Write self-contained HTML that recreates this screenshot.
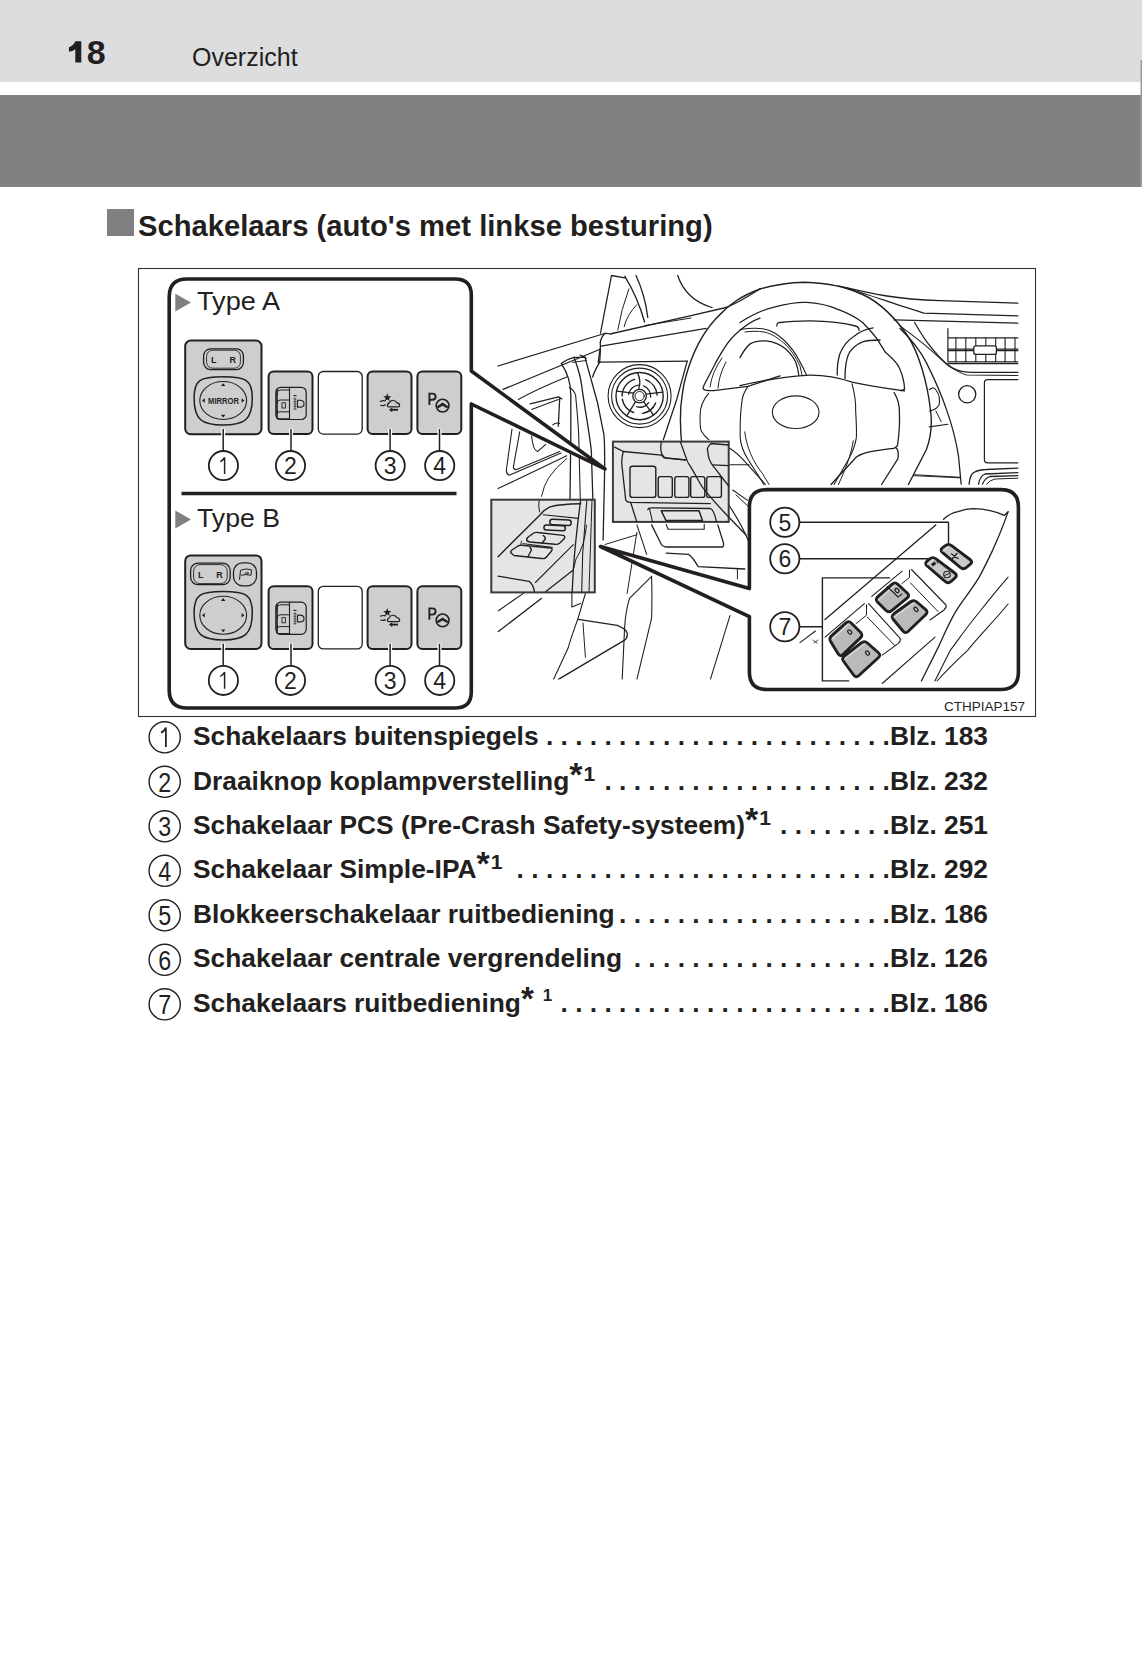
<!DOCTYPE html>
<html><head><meta charset="utf-8">
<style>
html,body{margin:0;padding:0;background:#fff;}
body{width:1142px;height:1654px;position:relative;overflow:hidden;font-family:"Liberation Sans",sans-serif;color:#231f20;}
.a{position:absolute;white-space:pre;line-height:1;}
#hb1{position:absolute;left:0;top:0;width:1142px;height:82px;background:#dcdddf;}
#hb2{position:absolute;left:0;top:95px;width:1142px;height:92px;background:#808183;}
#pn{left:86.7px;top:35px;font-size:34px;font-weight:bold;}
#ov{left:192px;top:45px;font-size:25px;}
#sq{position:absolute;left:107px;top:209px;width:27px;height:27px;background:#808083;}
#h2{left:138px;top:212px;font-size:29.2px;font-weight:bold;}
svg{position:absolute;left:0;top:0;}
</style></head><body>
<div id="hb1"></div><div id="hb2"></div>
<div class="a" id="pn">8</div>
<div class="a" id="ov">Overzicht</div>
<div id="sq"></div>
<div class="a" id="h2">Schakelaars (auto's met linkse besturing)</div>
<svg width="1142" height="1654" viewBox="0 0 1142 1654">
<path d="M75.3,41.2 H81.3 V62.6 H75.3 V49.2 Q72.5,51.2 68.9,51.8 V47.3 Q73.5,45.5 75.3,41.2 Z" fill="#231f20"/>

<clipPath id="dclip"><rect x="476" y="274.5" width="542.4" height="405"/></clipPath>
<g id="drawing" clip-path="url(#dclip)" fill="none" stroke="#231f20" stroke-linecap="round" stroke-linejoin="round">
<path d="M497.9,366 L604.6,333.5 Q607,333 610,334 L691,315.7 L724,308 C735,305 748,296 760,289" stroke-width="1.3"/>
<path d="M838,285.8 C865,292 890,299 940,300.6 L1018.4,303.2" stroke-width="1.3"/>
<path d="M845,287.5 C870,295 900,306 923.9,313.2 L1018.4,315.9" stroke-width="1.3"/>
<path d="M503,389.4 L599.5,349.5" stroke-width="1.3"/>
<path d="M604.6,333.5 Q599,340 600.5,346.5 L599.7,351.3 L598.2,362.5" stroke-width="1.3"/>
<path d="M601,346.2 L706.2,328.4" stroke-width="1.3"/>
<path d="M645,325.5 L691,318" stroke-width="1.0"/>
<path d="M894,319.9 L1018.4,323.2" stroke-width="1.3"/>
<path d="M600.5,333 L611.5,275.5 L624.9,277.9" stroke-width="1.3"/>
<path d="M624.9,276.3 Q638,298 644.6,322" stroke-width="1.3"/>
<path d="M636,275.5 Q645,295 647.8,317.3" stroke-width="1.3"/>
<path d="M628.9,288.9 Q621,310 617.8,329.9" stroke-width="1.0"/>
<path d="M636.7,304.7 Q627,315 624.1,326.7" stroke-width="1.0"/>
<path d="M677.7,275.5 Q686,300 712,307.5" stroke-width="1.3"/>
<path d="M561.4,363.6 Q566,359.5 574,357.3 L585,357.3" stroke-width="1.3"/>
<path d="M572.5,362.3 L586.5,360.5" stroke-width="1.0"/>
<path d="M561.4,363.6 C567,372 570.8,382 570.8,395 L570.8,434.6 L570,500" stroke-width="1.3"/>
<path d="M569.3,387.3 Q574,390 575.6,395.2 C577,410 578,420 578.7,434.6 L580.3,500" stroke-width="1.1"/>
<path d="M574,357.3 C578,368 581,378 581.9,387.3 C585,410 589,430 591.3,450.3 L592.9,500" stroke-width="1.3"/>
<path d="M585,357.3 C590,375 594,390 597.6,403 C600,415 602,425 603.9,434.6 Q605,445 604.5,478 L603.1,540" stroke-width="1.3"/>
<path d="M580,355.1 Q585,357 586.3,358.3" stroke-width="1.1"/>
<path d="M599.7,362.2 L600.5,348.8" stroke-width="1.3"/>
<path d="M599.7,362.2 L687.2,361.2" stroke-width="1.3"/>
<path d="M599.7,362.2 Q594,372 592.6,377.2" stroke-width="1.3"/>
<path d="M518.3,399.6 Q535,390 566.7,377" stroke-width="1.1"/>
<path d="M530.2,403.8 L558.3,396.8 L561.8,398.9" stroke-width="1.3"/>
<path d="M531.6,409.4 L558.3,399.6" stroke-width="1.1"/>
<path d="M559.7,398.2 L558.3,426.2" stroke-width="1.3"/>
<path d="M552.7,424.8 Q556,422 559.7,423.4" stroke-width="1.1"/>
<path d="M512,429 L506.4,469.7 Q506,474 509.2,475.3 L561.1,452.9" stroke-width="1.1"/>
<path d="M519.7,431.8 L513.4,466.9 Q513.5,469.5 516.2,469.7 L559.7,451.5" stroke-width="1.1"/>
<path d="M498,488.6 L566.7,455.7" stroke-width="1.1"/>
<path d="M531.6,436 Q533,450 537.3,451.5 Q541,449 545.7,444.4" stroke-width="1.1"/>
<path d="M541.5,496.3 Q544,485 548.5,478.1 Q555,468 566.7,458.5" stroke-width="1.0"/>
<circle cx="639.6" cy="396.1" r="31.5" stroke-width="1.1"/>
<circle cx="639.6" cy="396.1" r="28" stroke-width="1.1"/>
<circle cx="639.6" cy="396.1" r="23.6" stroke-width="1.4"/>
<path d="M622.1,396.1 A17.5,17.5 0 0 1 634.6,379.3 M645.6,379.6 A17.5,17.5 0 0 1 657.1,395.1 M655.6,403.1 A17.5,17.5 0 0 1 642.6,413.40000000000003 M633.6,412.5 A17.5,17.5 0 0 1 622.3000000000001,399.1" stroke-width="1.4"/>
<path d="M628.6,394.1 A11,11 0 0 1 638.6,385.1 M643.6,385.8 A11,11 0 0 1 650.6,397.1 M648.6,402.6 A11,11 0 0 1 636.6,406.70000000000005" stroke-width="1.3"/>
<circle cx="639.6" cy="396.1" r="6.8" stroke-width="1.3"/><circle cx="639.6" cy="396.1" r="4.6" stroke-width="1"/>
<path d="M633.6,393.1 L616.6,391.1 M638.6,389.3 Q641.6,381.1 637.6,373.1 M646.1,394.1 L662.6,392.1 M643.6,401.6 L653.6,415.1 M635.6,401.6 L626.6,416.1" stroke-width="1.3"/>
<path d="M712.3,500 C700,485 692,472 688.4,463 C683,450 680.8,440 680.8,432.5 C680,420 680.5,412 680.8,407.1 C682,395 683,386 685.8,376.7 C689,365 693,354 698.5,343.6 C704,333 710,325 716.3,318.2 C723,311 730,305 736.6,300.5 C745,295 752,292 760,289" stroke-width="1.4"/>
<path d="M760,289 C770,286 790,282.3 804.8,282.3 C830,283 845,287 862.6,294.5 C880,302 897,320 908.1,336.5 C918,352 927,380 930.5,410 C932.5,425 930,440 926.3,449.8 L908.4,484.5" stroke-width="1.4"/>
<path d="M760,318.2 C752,321 745,326 739.2,331 C733,336 728,342 724,348.7 C720,355 717,360 713.8,366.5 L705,383.3 Q702,389 703.7,389.4 Q706,391 713.6,390.6 L747.9,386.4 L780,375.9" stroke-width="1.3"/>
<path d="M740,322.5 C755,313 765,309 775,306.8 C790,303 800,302 806.5,302.4 C820,303 830,306 838,309.4 C850,314 857,318 862.6,322.5 C870,330 876,336 880,343.6 L885.4,352.3 C892,358 897,362 899.4,368 Q904,378 904.6,389.1 L901.1,390.8" stroke-width="1.3"/>
<path d="M722,358 Q712,372 710,387" stroke-width="1.0"/>
<path d="M726,362 Q719,375 718,388" stroke-width="1.0"/>
<path d="M740,329.5 C750,328 757,328 762.8,328.7 C772,330 778,335 783.8,340 C790,346 795,352 799.5,361.1 Q803,367 806.5,375" stroke-width="1.1"/>
<path d="M745,332 C752,331 758,331 764,332 C773,334 779,339 785,344 C791,350 796,357 800,366 L802,375" stroke-width="1.0"/>
<path d="M740,357.6 C744,350 747,346 750.5,343.6 C755,341 760,340.5 766.3,340.9 C775,342 781,345 785.5,348.8 C790,353 794,358 796,362.8 Q798,368 798.7,375" stroke-width="1.3"/>
<path d="M837.2,375 C837,365 838,360 839.8,354 C843,346 848,340 853.8,336.5 C860,331 866,329 873.1,327.8" stroke-width="1.3"/>
<path d="M845,378.6 C845,368 846,360 848.6,354 C852,348 857,344 862.6,341.8 C868,340 874,340 880.1,340" stroke-width="1.3"/>
<path d="M776.8,326 Q777,322 780.3,322.5 C790,321 800,320.8 810,320.8 C830,321 845,323 855.6,326 Q859,327 859.1,330.4" stroke-width="1.3"/>
<path d="M740,385.6 C760,381 790,376 810,375.1 C825,375 840,378 852.1,382.1 C870,386 890,389 904.6,390.8" stroke-width="1.3"/>
<path d="M852.1,383.8 C855,395 856,402 855.6,410.1 C856.5,425 856.8,433 856.3,437.9 C855,447 852,453 848.9,458.7 L834,484.5" stroke-width="1.1"/>
<path d="M853.3,440.8 C851,455 846,468 838.4,484.5" stroke-width="1.0"/>
<path d="M894.1,392.6 Q900,402 899.4,413.6 C900,425 899,435 897.6,445.1 Q896,449 890.6,448.6 C880,450 870,451 862.6,453.9 Q857,456 854.8,458.7 L831,484.5" stroke-width="1.3"/>
<path d="M896.5,448.3 Q899,451 898,458.7 L881.6,484.5" stroke-width="1.3"/>
<path d="M747.9,386.4 Q742,395 741.8,402.9 C740,415 740,425 740.2,437.9 C741,447 744,453 747.6,458.7 L764,484.5" stroke-width="1.1"/>
<path d="M744.7,431.9 C747,448 753,462 762.5,473.6 L769,484.5" stroke-width="1.0"/>
<path d="M708.7,393.1 C703,400 700,408 700.1,415.2 C700,422 700,428 701.3,431.1 Q704,436 708.7,439.7" stroke-width="1.1"/>
<ellipse cx="795.7" cy="412.2" rx="23.3" ry="16.3" stroke-width="1.1"/>
<path d="M729.8,448.3 C737,453 742,458 747.6,464.7 L765.5,484.5" stroke-width="1.1"/>
<path d="M729.8,464.7 L749.1,464.7" stroke-width="1.1"/>
<path d="M732.7,490 L747.6,500.4" stroke-width="1.1"/>
<path d="M687.2,361.2 L676.8,399.2 L663.3,439.7" stroke-width="1.3"/>
<path d="M914.6,322.5 C920,332 926,342 933.2,349.8 C940,358 947,365 953.2,368.4 C960,372 966,372.4 973.1,372.4 L1018.4,372.4" stroke-width="1.3"/>
<path d="M900,325.9 C915,337 925,345 930.6,349.8 C940,358 945,364 950.5,367.1 C957,371 962,374 966.5,375 L1018.4,375.5" stroke-width="1.1"/>
<path d="M900,328.5 C912,340 920,350 926.6,363.1 C935,380 942,396 946.5,409.6 C952,425 956,440 958.5,456.2 L961.2,484.1" stroke-width="1.3"/>
<path d="M929.3,389.7 Q934,386 936,390 Q941,397 939,405 Q936,410 929.3,411" stroke-width="1.1"/>
<path d="M935.9,411 L941.2,421.6" stroke-width="1.0"/>
<path d="M929.3,426.9 L947.9,424.3" stroke-width="1.1"/>
<path d="M914.6,474.8 L959.8,477.4" stroke-width="1.1"/>
<path d="M913.4,475.7 L960,477.8" stroke-width="0.9"/>
<path d="M947.9,337.8 H1018.4 M947.9,361.8 H1018.4 M947.9,363.6 H1018.4 M947.9,349.2 H1018.4 M947.9,350.6 H1018.4 M947.9,328.5 V361.8" stroke-width="1.2"/>
<path d="M955.9,337.8 V361.8" stroke-width="1.1"/>
<path d="M965.8,337.8 V361.8" stroke-width="1.1"/>
<path d="M975.8,337.8 V361.8" stroke-width="1.1"/>
<path d="M985.8,337.8 V361.8" stroke-width="1.1"/>
<path d="M995.7,337.8 V361.8" stroke-width="1.1"/>
<path d="M1005.1,337.8 V361.8" stroke-width="1.1"/>
<path d="M1015,337.8 V361.8" stroke-width="1.1"/>
<rect x="973.8" y="345.8" width="22.6" height="8.6" rx="2" fill="#fff" stroke-width="1.3"/>
<circle cx="967.2" cy="394.3" r="8.6" stroke-width="1.3"/>
<path d="M1018.4,379.7 H987.5 Q984.4,379.7 984.4,383 V459.5 Q984.4,462.8 987.5,462.8 H1018.4" stroke-width="1.2"/>
<path d="M969.1,484.1 Q970,474 974.5,472.1 Q979,469.5 986.4,469.5 L1018.4,468.1" stroke-width="1.3"/>
<path d="M978.5,484.1 Q980,476 985,474 L1018.4,472.6" stroke-width="1.3"/>
<path d="M982.5,484.1 Q985,478 990,476.5 L1018.4,475.6" stroke-width="1.3"/>
<path d="M986.5,484.1 Q990,480 995,479 L1018.4,478.2" stroke-width="1.0"/>
<path d="M498.4,610.7 L526.6,591.1" stroke-width="1.1"/>
<path d="M498.4,631.5 L541.3,598.4" stroke-width="1.3"/>
<path d="M571.9,591.1 L571.9,607 L580.5,603.4" stroke-width="1.1"/>
<path d="M585.4,593.5 L578.1,618.1 C574,630 570,640 568.3,647.5 L553.5,679.4" stroke-width="1.1"/>
<path d="M578.1,619.3 L617.3,625.4 Q626,629 627.1,632.8 Q628,638 624.6,640.1 L558.4,679.4" stroke-width="1.3"/>
<path d="M583,623 L585.4,657.3" stroke-width="1.0"/>
<path d="M651.6,576.4 L629.5,598.4 C626,610 625,620 624.6,627.9 L622.2,679.4" stroke-width="1.1"/>
<path d="M651.6,576.4 C652,590 652,605 651.6,618.1 L636.9,679.4" stroke-width="1.1"/>
<path d="M636.9,532.3 L627.1,593.5" stroke-width="1.0"/>
<path d="M605,544.5 L636.9,534.7" stroke-width="1.0"/>
<path d="M730,615.6 L710.4,679.4" stroke-width="1.1"/>
<path d="M636.9,524.9 L646.7,554.3" stroke-width="1.1"/>
<path d="M651.6,524.9 L661.4,544.5 Q663,547 667,547 L722.7,547 Q724,546 723.5,543 L717.8,524.9" stroke-width="1.3"/>
<path d="M666.3,553.1 L688.4,554.3 Q692,556 698.2,566.6 L744.8,569" stroke-width="1.3"/>
<path d="M737.4,569 L737.4,578.8" stroke-width="1.0"/>
<path d="M666.2,524.4 L668,529.3 L704.2,529.3 L704.2,524.4" stroke-width="1.1"/>
<path d="M712.3,500 L727.5,515.8 L746,535" stroke-width="1.3"/>
<path d="M728.9,505 C735,515 742,525 748,540" stroke-width="1.1"/>
<path d="M736,495 L749,507" stroke-width="1.0"/>
</g>
<rect x="612.9" y="441.6" width="115.8" height="80.3" fill="#e4e5e7" stroke="#3a3a3a" stroke-width="2"/>
<g fill="none" stroke="#231f20" stroke-linecap="round" stroke-linejoin="round"><path d="M614.7,447.2 L623.3,451.5 L661.3,455.1 Q663,456 663.7,457.6 L685.8,460" stroke-width="1.3"/>
<path d="M661.3,441.6 Q660,450 662,454.4 Q664,458 665.7,458.1 L685.4,459.9" stroke-width="1.3"/>
<path d="M623.3,451.5 Q621,460 622.1,466.8 L625.7,499.9 Q626.5,502 630.6,502.3 L710.3,503.6" stroke-width="1.3"/>
<rect x="630" y="466.2" width="25.8" height="31.2" rx="2.5" stroke-width="1.4"/>
<rect x="658.2" y="476.6" width="14.1" height="20.8" rx="2.2" stroke-width="1.4"/>
<rect x="674.8" y="476.6" width="14.1" height="20.8" rx="2.2" stroke-width="1.4"/>
<rect x="690.7" y="476.6" width="14.1" height="20.8" rx="2.2" stroke-width="1.4"/>
<rect x="706.7" y="476.6" width="14.7" height="20.8" rx="2.2" stroke-width="1.4"/>
<path d="M680.3,441.6 C684,452 688,464 689,464.2 C694,472 698,480 701.8,486.4 C710,497 720,508 728.7,517" stroke-width="1.3"/>
<path d="M728.7,445 L711,443.5 Q706,448 707.9,452.1 C708,458 710,462 712.8,465.6 C718,472 723,479 728.7,486" stroke-width="1.3"/>
<path d="M712.8,464.9 L728.7,465.6" stroke-width="1.1"/>
<path d="M630.6,502.3 L636.8,521.9" stroke-width="1.3"/>
<path d="M647.8,509.7 Q648,507.8 652,507.8 L710.3,508.5 Q714,510 716.5,521.9" stroke-width="1.3"/>
<path d="M649.5,508.5 L652.5,521.9" stroke-width="1.1"/>
<path d="M661.3,510.8 L699,510.8 L702.5,520.5 L666,520.5 Z" stroke-width="1.5"/></g>
<rect x="491.3" y="499.7" width="103.5" height="92.7" fill="#e4e5e7" stroke="#3a3a3a" stroke-width="2"/>
<g fill="none" stroke="#231f20" stroke-linecap="round" stroke-linejoin="round"><path d="M498.1,556.7 L540.7,514.2 Q545,509 550.1,506.8 Q560,504 580.6,503.7" stroke-width="1.4"/>
<path d="M543.3,514.7 L578.5,518.4" stroke-width="1.1"/>
<path d="M539.6,512 Q538,506 539.1,500.5" stroke-width="1.0"/>
<rect x="549.8" y="519.7" width="21.4" height="5.4" rx="2.7" transform="rotate(3 560.5 522.4)" stroke-width="1.5"/>
<rect x="543.9" y="525.4" width="21.5" height="5" rx="2.5" transform="rotate(3 554.6 527.9)" stroke-width="1.5"/>
<path d="M527,541 Q526,539 528,537.2 L533,533.5 Q535,532 538,532.5 L563,535.4 Q566,536 564,539 L559.5,543.2 Q558,544.5 555,544.3 L530,542 Z" stroke-width="1.4"/>
<path d="M543.2,535.5 Q546,537 545,539.5 L542,543" stroke-width="1.4"/>
<path d="M522.8,543.6 L552.2,547.3" stroke-width="1.0"/>
<path d="M511,553 Q510,551.5 512,550 L518,546 Q520,545 522,545.2 L551,548 Q553,548.5 551.5,551 L546.5,557 Q545,559 541.5,558.5 L514,555.5 Z" stroke-width="1.4"/>
<path d="M530,547.5 Q532,549 531,551 L528,556.5" stroke-width="1.4"/>
<path d="M520.5,545.5 L521.5,541" stroke-width="0.9"/>
<path d="M535.4,582.5 L573.3,544.6" stroke-width="1.1"/>
<path d="M545.9,591.4 L573.3,569.9" stroke-width="1.3"/>
<path d="M498.1,576.2 L529.1,581.4 Q533,584 534.4,591.4" stroke-width="1.3"/>
<path d="M580.6,500.5 C578,520 575,545 573.3,569.9 L572.2,592.4" stroke-width="1.3"/>
<path d="M586.9,500.5 C585,520 584,540 582.7,553 L581.7,592.4" stroke-width="1.1"/>
<path d="M592,500.5 C591,530 590,560 589,592" stroke-width="1.0"/>
<path d="M586.5,525 Q585,545 576,559 L573.3,569.9" stroke-width="1.0"/></g>
<g id="callL">
<path d="M187,279 L455,279 Q471.3,279 471.3,295 L471.3,371 L605,469 L471.3,404 L471.3,692 Q471.3,708 455,708 L187,708 Q169.2,708 169.2,690 L169.2,297 Q169.2,279 187,279 Z" fill="#fff" stroke="#231f20" stroke-width="3.6" stroke-linejoin="round"/>
<polygon points="175.3,293.7 191,302.6 175.3,311.5" fill="#808083"/>
<text x="197" y="310.3" font-family="Liberation Sans" font-size="25.8" fill="#231f20" textLength="83" lengthAdjust="spacingAndGlyphs">Type A</text>
<polygon points="175.3,510.6 191,519.5 175.3,528.4" fill="#808083"/>
<text x="197" y="527" font-family="Liberation Sans" font-size="25.8" fill="#231f20" textLength="83" lengthAdjust="spacingAndGlyphs">Type B</text>
<line x1="181.5" y1="493.5" x2="456.5" y2="493.5" stroke="#231f20" stroke-width="3.6"/>
</g>
<g id="callR">
<path d="M767,489.6 L1001,489.6 Q1018.4,489.6 1018.4,507 L1018.4,672 Q1018.4,689.5 1001,689.5 L767,689.5 Q749.4,689.5 749.4,672 L749.4,616.6 L600.5,546.5 L749.4,588.6 L749.4,507 Q749.4,489.6 767,489.6 Z" fill="#fff" stroke="#231f20" stroke-width="3.6" stroke-linejoin="round"/>
</g>

<g id="buttons">
<rect x="185.2" y="340.6" width="76.3" height="93.6" rx="5.5" fill="#cdced0" stroke="#231f20" stroke-width="2"/>
<rect x="268.6" y="371.5" width="43.9" height="62.6" rx="5" fill="#cdced0" stroke="#231f20" stroke-width="2"/>
<rect x="318.3" y="371.5" width="43.9" height="62.6" rx="5" fill="#fff" stroke="#231f20" stroke-width="1.3"/>
<rect x="367.6" y="371.5" width="43.9" height="62.6" rx="5" fill="#cdced0" stroke="#231f20" stroke-width="2"/>
<rect x="417.4" y="371.5" width="43.9" height="62.6" rx="5" fill="#cdced0" stroke="#231f20" stroke-width="2"/>
<path d="M223.2,376.7 C246,376.7 252.3,380.0 252.3,398.0 C252.3,420.0 244,425.1 223.2,425.1 C202,425.1 194.1,420.0 194.1,398.0 C194.1,380.0 200,376.7 223.2,376.7 Z" fill="none" stroke="#231f20" stroke-width="1.5"/>
<ellipse cx="223.2" cy="400.5" rx="23.4" ry="19" fill="none" stroke="#231f20" stroke-width="1.1"/>
<path d="M223.2,383.3 l-2.2,2.8 h4.4 Z M223.2,417.5 l-2.2,-2.8 h4.4 Z M202,400.5 l2.8,-2.2 v4.4 Z M244.4,400.5 l-2.8,-2.2 v4.4 Z" fill="#231f20"/>
<rect x="203.6" y="348.8" width="39.8" height="20.8" rx="7" fill="none" stroke="#231f20" stroke-width="1.3"/>
<rect x="206.6" y="350.2" width="33.8" height="18" rx="6" fill="none" stroke="#231f20" stroke-width="0.9"/>
<text x="213.8" y="363.4" font-family="Liberation Sans" font-weight="bold" font-size="9" text-anchor="middle" fill="#231f20">L</text>
<text x="232.8" y="363.4" font-family="Liberation Sans" font-weight="bold" font-size="9" text-anchor="middle" fill="#231f20">R</text>
<text x="223.6" y="403.7" font-family="Liberation Sans" font-weight="bold" font-size="8.6" text-anchor="middle" fill="#231f20" textLength="31" lengthAdjust="spacingAndGlyphs">MIRROR</text>
<rect x="275.8" y="387.3" width="30.4" height="32.2" rx="5" fill="none" stroke="#231f20" stroke-width="1.2"/>
<line x1="289.5" y1="387.3" x2="289.5" y2="419.5" stroke="#231f20" stroke-width="1.1"/>
<path d="M277.5,392.5 Q277.5,390.0 280,390.0 H289.5 M277.5,392.5 V395.0 M277.5,402.5 Q277.5,400.0 280,400.0 H289.5 M277.5,402.5 V404.0 M277.5,410.0 V413.5 Q277.5,411.8 280,411.8 H289.5" fill="none" stroke="#231f20" stroke-width="1"/>
<path d="M277,389.0 V418.0 Q277,419.0 279,419.0 H289.5" fill="none" stroke="#231f20" stroke-width="1.6"/>
<rect x="282" y="402.8" width="3.4" height="5.2" fill="none" stroke="#231f20" stroke-width="0.9"/>
<line x1="293.3" y1="395.6" x2="296.5" y2="395.6" stroke="#231f20" stroke-width="1.1"/>
<path d="M297.5,400.3 h2.5 q4,0 4,3.4 q0,3.4 -4,3.4 h-2.5 Z" fill="none" stroke="#231f20" stroke-width="1.1"/>
<path d="M293.5,399.0 h3 M293.5,401.5 h3 M293.5,404.0 h3 M293.5,406.5 h3 M293.5,409.0 h3 M295,397.5 v12" fill="none" stroke="#231f20" stroke-width="0.7"/>
<polygon points="387.30,393.30 388.36,396.14 391.39,396.27 389.01,398.16 389.83,401.08 387.30,399.40 384.77,401.08 385.59,398.16 383.21,396.27 386.24,396.14" fill="#231f20"/>
<path d="M380,401.6 q2.8,-1.4 5.6,-0.6 M380.3,405.2 q2.8,1 5.4,-0.4" fill="none" stroke="#231f20" stroke-width="1.2"/>
<path d="M387.6,406.3 q-0.6,-2.6 1.6,-3.4 q1.6,-2.8 4.2,-2.4 q2.4,0.3 3.2,2.2 q2.8,0.4 3,2.4 q0.2,1.6 -1.6,1.8 h-8.6 q-1.6,0 -1.8,-0.6 Z" fill="none" stroke="#231f20" stroke-width="1.2"/>
<path d="M390.5,409.8 h7.5" fill="none" stroke="#231f20" stroke-width="1.9"/>
<path d="M389,409.8 l3.2,-2.4 v4.8 Z" fill="#231f20"/>
<path d="M429.4,405.0 V393.6 h2.9 q3.3,0 3.3,3.1 q0,3.1 -3.3,3.1 h-2.9" fill="none" stroke="#231f20" stroke-width="1.9"/>
<circle cx="442.6" cy="405.6" r="6.4" fill="none" stroke="#231f20" stroke-width="1.6"/>
<path d="M436.4,406.8 L442.6,402.6 L448.8,406.8 L447,408.2 L442.6,405.8 L438.2,408.2 Z" fill="#231f20"/>
<line x1="223.2" y1="428.5" x2="223.2" y2="451.0" stroke="#fff" stroke-width="4"/>
<line x1="223.2" y1="429.0" x2="223.2" y2="451.0" stroke="#231f20" stroke-width="1.5"/>
<line x1="291" y1="428.5" x2="291" y2="451.0" stroke="#fff" stroke-width="4"/>
<line x1="291" y1="429.0" x2="291" y2="451.0" stroke="#231f20" stroke-width="1.5"/>
<line x1="390.1" y1="428.5" x2="390.1" y2="451.0" stroke="#fff" stroke-width="4"/>
<line x1="390.1" y1="429.0" x2="390.1" y2="451.0" stroke="#231f20" stroke-width="1.5"/>
<line x1="439.5" y1="428.5" x2="439.5" y2="451.0" stroke="#fff" stroke-width="4"/>
<line x1="439.5" y1="429.0" x2="439.5" y2="451.0" stroke="#231f20" stroke-width="1.5"/>
<circle cx="223.4" cy="465.6" r="14.6" fill="#fff" stroke="#231f20" stroke-width="1.8"/>
<path d="M224.6,473.9 V457.4 Q222.9,460.7 220.3,461.6" fill="none" stroke="#231f20" stroke-width="1.48" stroke-linejoin="miter"/>
<circle cx="290.5" cy="465.6" r="14.6" fill="#fff" stroke="#231f20" stroke-width="1.8"/>
<text x="0" y="0" font-family="Liberation Sans" font-size="23.0" text-anchor="middle" fill="#231f20" transform="translate(290.5 473.9) scale(1.0 1)">2</text>
<circle cx="390.2" cy="465.6" r="14.6" fill="#fff" stroke="#231f20" stroke-width="1.8"/>
<text x="0" y="0" font-family="Liberation Sans" font-size="23.0" text-anchor="middle" fill="#231f20" transform="translate(390.2 473.9) scale(1.0 1)">3</text>
<circle cx="439.7" cy="465.6" r="14.6" fill="#fff" stroke="#231f20" stroke-width="1.8"/>
<text x="0" y="0" font-family="Liberation Sans" font-size="23.0" text-anchor="middle" fill="#231f20" transform="translate(439.7 473.9) scale(1.0 1)">4</text>
<rect x="185.2" y="555.4" width="76.3" height="93.6" rx="5.5" fill="#cdced0" stroke="#231f20" stroke-width="2"/>
<rect x="268.6" y="586.3" width="43.9" height="62.6" rx="5" fill="#cdced0" stroke="#231f20" stroke-width="2"/>
<rect x="318.3" y="586.3" width="43.9" height="62.6" rx="5" fill="#fff" stroke="#231f20" stroke-width="1.3"/>
<rect x="367.6" y="586.3" width="43.9" height="62.6" rx="5" fill="#cdced0" stroke="#231f20" stroke-width="2"/>
<rect x="417.4" y="586.3" width="43.9" height="62.6" rx="5" fill="#cdced0" stroke="#231f20" stroke-width="2"/>
<path d="M223.2,591.5 C246,591.5 252.3,594.8 252.3,612.8 C252.3,634.8 244,639.9 223.2,639.9 C202,639.9 194.1,634.8 194.1,612.8 C194.1,594.8 200,591.5 223.2,591.5 Z" fill="none" stroke="#231f20" stroke-width="1.5"/>
<ellipse cx="223.2" cy="615.3" rx="23.4" ry="19" fill="none" stroke="#231f20" stroke-width="1.1"/>
<path d="M223.2,598.1 l-2.2,2.8 h4.4 Z M223.2,632.3 l-2.2,-2.8 h4.4 Z M202,615.3 l2.8,-2.2 v4.4 Z M244.4,615.3 l-2.8,-2.2 v4.4 Z" fill="#231f20"/>
<rect x="190.6" y="563.1" width="39.6" height="21.6" rx="7.5" fill="none" stroke="#231f20" stroke-width="1.3"/>
<rect x="193.6" y="564.6" width="33.6" height="19" rx="6.5" fill="none" stroke="#231f20" stroke-width="0.9"/>
<text x="200.8" y="578.4" font-family="Liberation Sans" font-weight="bold" font-size="9" text-anchor="middle" fill="#231f20">L</text>
<text x="219.6" y="578.4" font-family="Liberation Sans" font-weight="bold" font-size="9" text-anchor="middle" fill="#231f20">R</text>
<rect x="233.5" y="562.8" width="23" height="23" rx="9" fill="none" stroke="#231f20" stroke-width="1.3"/>
<path d="M239.5,579.8 L240.5,570.3 Q246,567.8 251.5,569.8 L251,575.3 Q246,573.8 241,575.3" fill="none" stroke="#231f20" stroke-width="1"/>
<path d="M244.5,573.1 h4 l-1.5,-1.5 M248.5,573.1 l-1.5,1.5" fill="none" stroke="#231f20" stroke-width="0.9"/>
<rect x="275.8" y="602.1" width="30.4" height="32.2" rx="5" fill="none" stroke="#231f20" stroke-width="1.2"/>
<line x1="289.5" y1="602.1" x2="289.5" y2="634.3" stroke="#231f20" stroke-width="1.1"/>
<path d="M277.5,607.3 Q277.5,604.8 280,604.8 H289.5 M277.5,607.3 V609.8 M277.5,617.3 Q277.5,614.8 280,614.8 H289.5 M277.5,617.3 V618.8 M277.5,624.8 V628.3 Q277.5,626.6 280,626.6 H289.5" fill="none" stroke="#231f20" stroke-width="1"/>
<path d="M277,603.8 V632.8 Q277,633.8 279,633.8 H289.5" fill="none" stroke="#231f20" stroke-width="1.6"/>
<rect x="282" y="617.6" width="3.4" height="5.2" fill="none" stroke="#231f20" stroke-width="0.9"/>
<line x1="293.3" y1="610.4" x2="296.5" y2="610.4" stroke="#231f20" stroke-width="1.1"/>
<path d="M297.5,615.1 h2.5 q4,0 4,3.4 q0,3.4 -4,3.4 h-2.5 Z" fill="none" stroke="#231f20" stroke-width="1.1"/>
<path d="M293.5,613.8 h3 M293.5,616.3 h3 M293.5,618.8 h3 M293.5,621.3 h3 M293.5,623.8 h3 M295,612.3 v12" fill="none" stroke="#231f20" stroke-width="0.7"/>
<polygon points="387.30,608.10 388.36,610.94 391.39,611.07 389.01,612.96 389.83,615.88 387.30,614.20 384.77,615.88 385.59,612.96 383.21,611.07 386.24,610.94" fill="#231f20"/>
<path d="M380,616.4 q2.8,-1.4 5.6,-0.6 M380.3,620.0 q2.8,1 5.4,-0.4" fill="none" stroke="#231f20" stroke-width="1.2"/>
<path d="M387.6,621.1 q-0.6,-2.6 1.6,-3.4 q1.6,-2.8 4.2,-2.4 q2.4,0.3 3.2,2.2 q2.8,0.4 3,2.4 q0.2,1.6 -1.6,1.8 h-8.6 q-1.6,0 -1.8,-0.6 Z" fill="none" stroke="#231f20" stroke-width="1.2"/>
<path d="M390.5,624.6 h7.5" fill="none" stroke="#231f20" stroke-width="1.9"/>
<path d="M389,624.6 l3.2,-2.4 v4.8 Z" fill="#231f20"/>
<path d="M429.4,619.8 V608.4 h2.9 q3.3,0 3.3,3.1 q0,3.1 -3.3,3.1 h-2.9" fill="none" stroke="#231f20" stroke-width="1.9"/>
<circle cx="442.6" cy="620.4" r="6.4" fill="none" stroke="#231f20" stroke-width="1.6"/>
<path d="M436.4,621.6 L442.6,617.4 L448.8,621.6 L447,623.0 L442.6,620.6 L438.2,623.0 Z" fill="#231f20"/>
<line x1="223.2" y1="643.3" x2="223.2" y2="665.8" stroke="#fff" stroke-width="4"/>
<line x1="223.2" y1="643.8" x2="223.2" y2="665.8" stroke="#231f20" stroke-width="1.5"/>
<line x1="291" y1="643.3" x2="291" y2="665.8" stroke="#fff" stroke-width="4"/>
<line x1="291" y1="643.8" x2="291" y2="665.8" stroke="#231f20" stroke-width="1.5"/>
<line x1="390.1" y1="643.3" x2="390.1" y2="665.8" stroke="#fff" stroke-width="4"/>
<line x1="390.1" y1="643.8" x2="390.1" y2="665.8" stroke="#231f20" stroke-width="1.5"/>
<line x1="439.5" y1="643.3" x2="439.5" y2="665.8" stroke="#fff" stroke-width="4"/>
<line x1="439.5" y1="643.8" x2="439.5" y2="665.8" stroke="#231f20" stroke-width="1.5"/>
<circle cx="223.4" cy="680.4" r="14.6" fill="#fff" stroke="#231f20" stroke-width="1.8"/>
<path d="M224.6,688.7 V672.2 Q222.9,675.5 220.3,676.4" fill="none" stroke="#231f20" stroke-width="1.48" stroke-linejoin="miter"/>
<circle cx="290.5" cy="680.4" r="14.6" fill="#fff" stroke="#231f20" stroke-width="1.8"/>
<text x="0" y="0" font-family="Liberation Sans" font-size="23.0" text-anchor="middle" fill="#231f20" transform="translate(290.5 688.7) scale(1.0 1)">2</text>
<circle cx="390.2" cy="680.4" r="14.6" fill="#fff" stroke="#231f20" stroke-width="1.8"/>
<text x="0" y="0" font-family="Liberation Sans" font-size="23.0" text-anchor="middle" fill="#231f20" transform="translate(390.2 688.7) scale(1.0 1)">3</text>
<circle cx="439.7" cy="680.4" r="14.6" fill="#fff" stroke="#231f20" stroke-width="1.8"/>
<text x="0" y="0" font-family="Liberation Sans" font-size="23.0" text-anchor="middle" fill="#231f20" transform="translate(439.7 688.7) scale(1.0 1)">4</text>
</g>
<g id="winsw" fill="none" stroke="#231f20" stroke-linecap="round" stroke-linejoin="round"><path d="M943.5,519.3 Q950,513 958,511.6 C965,509 970,508.7 973.4,508.7 C985,509 995,511 1004.2,515.4 L1008,512" stroke-width="1.3"/>
<path d="M1008.1,511.6 C1002,530 997,540 992.7,550.1 C988,560 983,570 979.2,577.1 C970,592 963,600 958,607.9 C950,620 944,635 938.7,646.4 L921.4,681" stroke-width="1.3"/>
<path d="M1008.1,577.1 C995,592 985,605 973.4,619.5 C965,630 958,640 950.3,650.3 L934.9,681" stroke-width="1.1"/>
<path d="M1008.1,604 C995,620 980,635 967.6,650.3 C955,662 945,672 937,681" stroke-width="1.1"/>
<path d="M935.8,525 L825,619.5" stroke-width="1.3"/>
<path d="M800,642.6 L815.4,631" stroke-width="1.1"/>
<path d="M825,637.2 L864.4,603.6" stroke-width="1.1"/>
<path d="M866.5,604.7 L866.5,615.2 L856,623.6" stroke-width="1.0"/>
<path d="M868.6,603.6 L900.1,638.3 Q901,641 898,643.6 L882.2,655.1" stroke-width="1.1"/>
<path d="M867.5,617.3 L894.9,645.7" stroke-width="1.0"/>
<path d="M871.7,596.3 L902.2,571.1" stroke-width="1.1"/>
<path d="M909.5,570 L909.5,577.5 L902,583.5" stroke-width="1.0"/>
<path d="M911.5,569.5 L946,605 Q947,607.5 944,610 L930,620" stroke-width="1.1"/>
<path d="M910.5,583 L938,611.5" stroke-width="1.0"/>
<path d="M882.2,683.5 L935,637.2" stroke-width="1.1"/>
<path d="M800,522.2 L948.5,522.2 L948.5,543.4" stroke-width="1.4"/>
<path d="M800,558.8 L927.5,558.8" stroke-width="1.4"/>
<path d="M800.5,626.7 L822.4,626.7 M889.6,577.9 L822.4,577.9 L822.4,680.9 L848.6,680.9" stroke-width="1.4"/>
<path d="M831.7,635.6 L845.6,623.1 Q848.6,620.4 851.4,623.2 L860.5,632.3 Q863.3,635.1 860.4,637.9 L843.1,654.4 Q840.2,657.2 838.1,653.8 L830.8,641.7 Q828.7,638.3 831.7,635.6 Z" fill="#b9babc" stroke="#231f20" stroke-width="2.9" stroke-linejoin="round"/>
<path d="M831.9,639.3 L849.1,623.6" fill="none" stroke="#e8e8e8" stroke-width="1"/>
<path d="M844.5,655.8 L861.2,642.9 Q864.4,640.4 867.4,643.0 L878.2,652.5 Q881.2,655.1 878.3,657.8 L858.9,675.5 Q856.0,678.2 853.6,675.0 L843.7,661.5 Q841.3,658.3 844.5,655.8 Z" fill="#b9babc" stroke="#231f20" stroke-width="2.9" stroke-linejoin="round"/>
<path d="M844.5,659.3 L864.9,643.6" fill="none" stroke="#e8e8e8" stroke-width="1"/>
<path d="M877.9,596.7 L891.9,584.3 Q894.9,581.6 897.8,584.3 L907.2,593.0 Q910.1,595.7 907.0,598.2 L891.7,610.6 Q888.6,613.1 885.8,610.3 L877.7,602.2 Q874.9,599.4 877.9,596.7 Z" fill="#b9babc" stroke="#231f20" stroke-width="2.9" stroke-linejoin="round"/>
<path d="M878.1,600.4 L895.4,584.8" fill="none" stroke="#e8e8e8" stroke-width="1"/>
<path d="M893.9,613.8 L910.6,601.8 Q913.8,599.4 916.8,602.0 L925.5,609.4 Q928.5,612.0 925.6,614.8 L908.3,631.3 Q905.4,634.1 902.9,631.0 L893.2,619.3 Q890.7,616.2 893.9,613.8 Z" fill="#b9babc" stroke="#231f20" stroke-width="2.9" stroke-linejoin="round"/>
<path d="M893.9,617.2 L914.3,602.6" fill="none" stroke="#e8e8e8" stroke-width="1"/>
<path d="M942.6,547.7 L945.3,545.7 Q948.4,543.2 951.6,545.6 L970.0,559.5 Q973.2,561.9 970.1,564.4 L966.5,567.4 Q963.4,569.9 960.3,567.4 L942.6,552.7 Q939.5,550.2 942.6,547.7 Z" fill="#c8c9cb" stroke="#231f20" stroke-width="2.9" stroke-linejoin="round"/>
<path d="M942.7,551.2 L948.9,546.4" fill="none" stroke="#e8e8e8" stroke-width="1"/>
<path d="M927.3,560.9 L929.7,558.9 Q932.8,556.4 936.0,558.8 L954.7,573.0 Q957.9,575.4 954.9,578.0 L951.1,581.4 Q948.1,584.0 945.1,581.4 L927.2,566.0 Q924.2,563.4 927.3,560.9 Z" fill="#c8c9cb" stroke="#231f20" stroke-width="2.9" stroke-linejoin="round"/>
<path d="M927.4,564.4 L933.3,559.6" fill="none" stroke="#e8e8e8" stroke-width="1"/>
<ellipse cx="849.7" cy="632" rx="1.6" ry="2.4" transform="rotate(-40 849.7 632)" fill="none" stroke="#231f20" stroke-width="1.2"/>
<ellipse cx="867.5" cy="653" rx="1.6" ry="2.4" transform="rotate(-40 867.5 653)" fill="none" stroke="#231f20" stroke-width="1.2"/>
<ellipse cx="897" cy="590.5" rx="1.6" ry="2.4" transform="rotate(-40 897 590.5)" fill="none" stroke="#231f20" stroke-width="1.2"/>
<ellipse cx="915.9" cy="609.4" rx="1.6" ry="2.4" transform="rotate(-40 915.9 609.4)" fill="none" stroke="#231f20" stroke-width="1.2"/>
<path d="M887,586.5 L893.5,592.5 L898,597 L902,594" stroke-width="1.1"/>
<circle cx="947" cy="574.5" r="3.3" fill="none" stroke="#231f20" stroke-width="1.1"/>
<path d="M944.8,575.5 L949.2,573.5" stroke-width="1.0"/>
<rect x="931.5" y="562.5" width="4.2" height="3" fill="#231f20" stroke="none" transform="rotate(-35 933.6 564)"/>
<path d="M936,561 Q938,560 937.5,563" stroke-width="0.9"/>
<path d="M951.5,554 L958,558.5 M952.5,558.5 L957,553.5" stroke-width="1.4"/>
<path d="M813,640 L817,643 M814,643 L818,640" stroke-width="0.8"/>
<circle cx="784.8" cy="522.2" r="14.6" fill="#fff" stroke="#231f20" stroke-width="1.8"/>
<text x="0" y="0" font-family="Liberation Sans" font-size="23.0" text-anchor="middle" fill="#231f20" stroke="none" transform="translate(784.8 530.5) scale(1.0 1)">5</text>
<circle cx="784.8" cy="558.8" r="14.6" fill="#fff" stroke="#231f20" stroke-width="1.8"/>
<text x="0" y="0" font-family="Liberation Sans" font-size="23.0" text-anchor="middle" fill="#231f20" stroke="none" transform="translate(784.8 567.0) scale(1.0 1)">6</text>
<circle cx="784.8" cy="626.8" r="14.6" fill="#fff" stroke="#231f20" stroke-width="1.8"/>
<text x="0" y="0" font-family="Liberation Sans" font-size="23.0" text-anchor="middle" fill="#231f20" stroke="none" transform="translate(784.8 635.0) scale(1.0 1)">7</text></g>
<rect x="138.5" y="268.5" width="897" height="448" fill="none" stroke="#333" stroke-width="1.1"/>
<rect x="1140.5" y="60" width="1.5" height="127" fill="#9a9b9d"/>
<text x="1025" y="711" font-family="Liberation Sans" font-size="13.5" text-anchor="end" fill="#231f20">CTHPIAP157</text>
<g font-family="Liberation Sans" fill="#231f20">
<circle cx="164.7" cy="737.3" r="15.6" fill="none" stroke="#231f20" stroke-width="1.4"/>
<path d="M165.9,747.0 V727.6 Q164.2,731.5 161.0,732.6" fill="none" stroke="#231f20" stroke-width="1.75" stroke-linejoin="miter"/>
<text x="193" y="745.2" font-size="26.35" font-weight="bold">Schakelaars buitenspiegels</text>
<text x="988" y="745.2" font-size="26.35" font-weight="bold" text-anchor="end">. . . . . . . . . . . . . . . . . . . . . . . .Blz. 183</text>
<circle cx="164.7" cy="781.8" r="15.6" fill="none" stroke="#231f20" stroke-width="1.4"/>
<text x="0" y="0" font-family="Liberation Sans" font-size="27.1" text-anchor="middle" fill="#231f20" transform="translate(164.7 791.5) scale(0.86 1)">2</text>
<text x="193" y="789.6" font-size="26.35" font-weight="bold">Draaiknop koplampverstelling<tspan font-size="34" dy="-3.5">*</tspan><tspan font-size="21" dy="-5.6" dx="1">1</tspan></text>
<text x="988" y="789.6" font-size="26.35" font-weight="bold" text-anchor="end">. . . . . . . . . . . . . . . . . . . .Blz. 232</text>
<circle cx="164.7" cy="826.3" r="15.6" fill="none" stroke="#231f20" stroke-width="1.4"/>
<text x="0" y="0" font-family="Liberation Sans" font-size="27.1" text-anchor="middle" fill="#231f20" transform="translate(164.7 836.0) scale(0.86 1)">3</text>
<text x="193" y="834.0" font-size="26.35" font-weight="bold">Schakelaar PCS (Pre-Crash Safety-systeem)<tspan font-size="34" dy="-3.5">*</tspan><tspan font-size="21" dy="-5.6" dx="1">1</tspan></text>
<text x="988" y="834.0" font-size="26.35" font-weight="bold" text-anchor="end">. . . . . . . .Blz. 251</text>
<circle cx="164.7" cy="870.8" r="15.6" fill="none" stroke="#231f20" stroke-width="1.4"/>
<text x="0" y="0" font-family="Liberation Sans" font-size="27.1" text-anchor="middle" fill="#231f20" transform="translate(164.7 880.5) scale(0.86 1)">4</text>
<text x="193" y="878.4" font-size="26.35" font-weight="bold">Schakelaar Simple-IPA<tspan font-size="34" dy="-3.5">*</tspan><tspan font-size="21" dy="-5.6" dx="1">1</tspan></text>
<text x="988" y="878.4" font-size="26.35" font-weight="bold" text-anchor="end">. . . . . . . . . . . . . . . . . . . . . . . . . .Blz. 292</text>
<circle cx="164.7" cy="915.3" r="15.6" fill="none" stroke="#231f20" stroke-width="1.4"/>
<text x="0" y="0" font-family="Liberation Sans" font-size="27.1" text-anchor="middle" fill="#231f20" transform="translate(164.7 925.0) scale(0.86 1)">5</text>
<text x="193" y="922.8" font-size="26.35" font-weight="bold">Blokkeerschakelaar ruitbediening</text>
<text x="988" y="922.8" font-size="26.35" font-weight="bold" text-anchor="end">. . . . . . . . . . . . . . . . . . .Blz. 186</text>
<circle cx="164.7" cy="959.8" r="15.6" fill="none" stroke="#231f20" stroke-width="1.4"/>
<text x="0" y="0" font-family="Liberation Sans" font-size="27.1" text-anchor="middle" fill="#231f20" transform="translate(164.7 969.5) scale(0.86 1)">6</text>
<text x="193" y="967.2" font-size="26.35" font-weight="bold">Schakelaar centrale vergrendeling</text>
<text x="988" y="967.2" font-size="26.35" font-weight="bold" text-anchor="end">. . . . . . . . . . . . . . . . . .Blz. 126</text>
<circle cx="164.7" cy="1004.3" r="15.6" fill="none" stroke="#231f20" stroke-width="1.4"/>
<text x="0" y="0" font-family="Liberation Sans" font-size="27.1" text-anchor="middle" fill="#231f20" transform="translate(164.7 1014.0) scale(0.86 1)">7</text>
<text x="193" y="1011.6" font-size="26.35" font-weight="bold">Schakelaars ruitbediening<tspan font-size="33" dy="-1.5">*</tspan><tspan font-size="17" dy="-8.7" dx="9">1</tspan></text>
<text x="988" y="1011.6" font-size="26.35" font-weight="bold" text-anchor="end">. . . . . . . . . . . . . . . . . . . . . . .Blz. 186</text>
</g>
</svg>
</body></html>
